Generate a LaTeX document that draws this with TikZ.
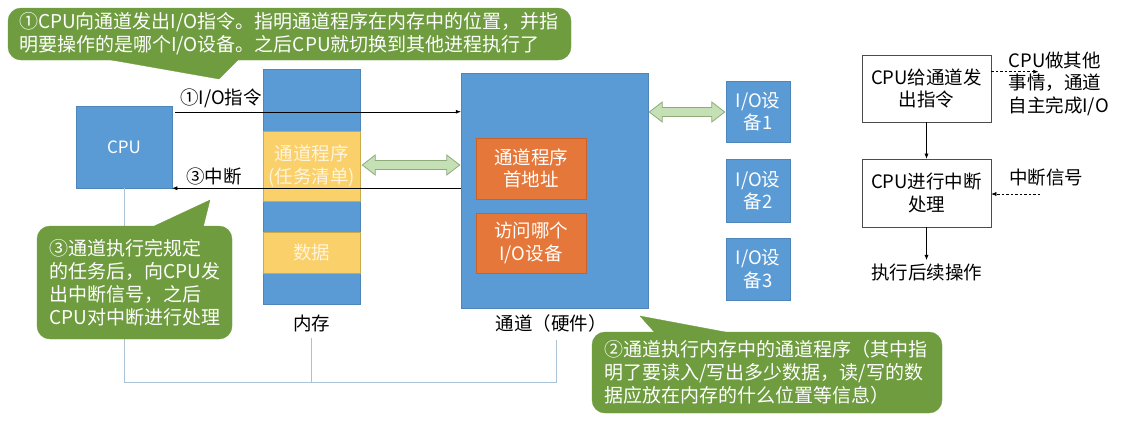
\documentclass[tikz,border=0pt]{standalone}
\usepackage{fontspec}
\setmainfont{Noto Sans CJK SC}
\usetikzlibrary{calc,arrows.meta}
\definecolor{blu}{HTML}{5B9BD5}
\definecolor{bluedge}{HTML}{4F86BA}
\definecolor{yel}{HTML}{FAD06A}
\definecolor{yeledge}{HTML}{C9A94E}
\definecolor{org}{HTML}{E5773A}
\definecolor{orgedge}{HTML}{C9612A}
\definecolor{grn}{HTML}{6E9C3F}
\definecolor{lgrn}{HTML}{C5E0B4}
\definecolor{lgrnedge}{HTML}{8EAB7C}
\definecolor{bus}{HTML}{A9C2D6}
\definecolor{yeltext}{HTML}{FFF4DC}
\begin{document}
\begin{tikzpicture}[x=1pt,y=-1pt,
  txt/.style={font=\fontsize{18.5}{22.5}\selectfont, align=center},
  bbox/.style={fill=blu, draw=bluedge, line width=0.5pt, inner sep=0, text=white, txt},
  ybox/.style={fill=yel, draw=yeledge, line width=0.5pt, inner sep=0, text=yeltext, txt},
  obox/.style={fill=org, draw=orgedge, line width=0.5pt, inner sep=0, text=white, txt},
  callout/.style={fill=grn, draw=grn, rounded corners=13pt, inner sep=0, text=white, align=left,
     font=\fontsize{19}{23}\selectfont},
  tail/.style={fill=grn, draw=grn, line width=0.3pt},
  dbl/.style={fill=lgrn, draw=lgrnedge, line width=0.8pt, line join=miter},
  fbox/.style={draw=black!70, line width=0.6pt, inner sep=0, txt, minimum width=129pt},
  arr/.style={-{Latex[length=5pt,width=4pt]}, line width=0.5pt},
  darr/.style={arr, dashed, dash pattern=on 2.5pt off 2pt},
  busline/.style={draw=bus, line width=1pt}]
\useasboundingbox (0,0) rectangle (1121,421);

% main blocks
\node[bbox, minimum width=96pt, minimum height=82pt, font=\fontsize{17}{20}\selectfont] (cpu) at (124,147) {CPU};
\node[bbox, minimum width=97pt, minimum height=235pt] (mem) at (311.5,186.5) {};
\node[ybox, minimum width=97pt, minimum height=70pt] (prog) at (311.5,166) {通道程序\\(任务清单)};
\node[ybox, minimum width=97pt, minimum height=41pt] (data) at (311.5,252.5) {数据};
\node[txt] (memlab) at (311.5,323) {内存};

\node[bbox, minimum width=187pt, minimum height=235pt] (chan) at (554.5,190.5) {};
\node[obox, minimum width=110pt, minimum height=61pt] (addr) at (531,168.5) {通道程序\\首地址};
\node[obox, minimum width=110pt, minimum height=60pt] (which) at (531,243) {访问哪个\\I/O设备};
\node[txt] (chanlab) at (551,323) {通道（硬件）};

\node[bbox, minimum width=64pt, minimum height=61pt] (io1) at (758,111.5) {I/O设\\备1};
\node[bbox, minimum width=64pt, minimum height=63pt] (io2) at (758,190.5) {I/O设\\备2};
\node[bbox, minimum width=64pt, minimum height=62pt] (io3) at (758,269) {I/O设\\备3};

% double arrows (memory <-> channel, channel <-> I/O device 1)
\draw[dbl] let \p1=($(mem.east |- 0,165)+(2,0)$), \p2=($(chan.west |- 0,165)+(-1,0)$),
  \n1={\x2-\x1-26pt} in
  (\p1) -- ++(13,-10) -- ++(0,5.5) -- ++(\n1,0) -- ++(0,-5.5) -- ++(13,10)
  -- ++(-13,10) -- ++(0,-5.5) -- ++(-\n1,0) -- ++(0,5.5) -- cycle;
\draw[dbl] let \p1=($(chan.east |- 0,112)+(1,0)$), \p2=($(io1.west |- 0,112)+(-1,0)$),
  \n1={\x2-\x1-26pt} in
  (\p1) -- ++(13,-10) -- ++(0,5.5) -- ++(\n1,0) -- ++(0,-5.5) -- ++(13,10)
  -- ++(-13,10) -- ++(0,-5.5) -- ++(-\n1,0) -- ++(0,5.5) -- cycle;

% instruction / interrupt
\coordinate (a1) at ($(cpu.north east)+(3,6)$);
\draw[arr] (a1) -- (a1 -| chan.west);
\node[txt, anchor=south] (lab1) at (221,111) {①I/O指令};
\draw[arr] (cpu.south east -| chan.west) -- (cpu.south east);
\node[txt] (lab3) at (214,176) {③中断};

% bus lines
\coordinate (busR) at (556,382);
\draw[busline] (cpu.south) |- (busR) -- ++(0,-42);
\draw[busline] (memlab.south |- busR) -- ++(0,-44);

% callouts
\fill[tail] (100,58) -- (219,79) -- (240,58) -- cycle;
\node[callout, minimum width=563pt, minimum height=52pt, text width=541pt] (c1) at (289.5,34)
  {①CPU向通道发出I/O指令。指明通道程序在内存中的位置，并指\\明要操作的是哪个I/O设备。之后CPU就切换到其他进程执行了};

\fill[tail] (150,228) -- (210,200) -- (203,228) -- cycle;
\node[callout, minimum width=195pt, minimum height=113pt, text width=170pt] (c3) at (134.5,282.5)
  {③通道执行完规定\\的任务后，向CPU发\\出中断信号，之后\\CPU对中断进行处理};

\fill[tail] (656,334) -- (640,316) -- (736,334) -- cycle;
\node[callout, minimum width=350pt, minimum height=81pt, text width=325pt] (c2) at (767,372.5)
  {②通道执行内存中的通道程序（其中指\\明了要读入/写出多少数据，读/写的数\\据应放在内存的什么位置等信息）};

% flowchart
\node[fbox, minimum height=67pt] (f1) at (926.5,88.5) {CPU给通道发\\出指令};
\node[fbox, minimum height=68pt] (f2) at (926.5,193) {CPU进行中断\\处理};
\node[txt] (f3) at (926.5,272) {执行后续操作};
\draw[arr] (f1) -- (f2);
\draw[arr] (f2) -- (f3);
\coordinate (d1) at ($(f1.north east)+(0,17)$);
\coordinate (d1e) at ($(d1)+(47,0)$);
\draw[darr] (d1) -- (d1e);
\node[txt, align=left, anchor=north west] (other) at (1005,48) {CPU做其他\\事情，通道\\自主完成I/O};
\node[txt] (sig) at (1046,177) {中断信号};
\coordinate (d2) at (1040,194);
\draw[darr] (d2) -- (d2 -| f2.east);
\end{tikzpicture}
\end{document}
